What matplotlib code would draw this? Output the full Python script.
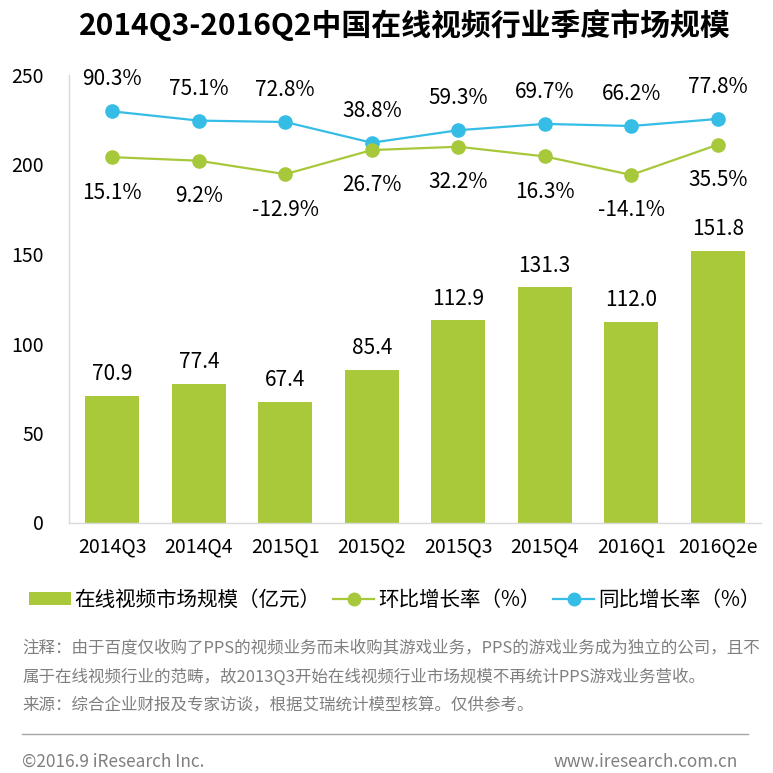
import matplotlib
matplotlib.use("Agg")
import matplotlib.pyplot as plt
from matplotlib.lines import Line2D
from matplotlib.patches import Patch

plt.rcParams['font.family'] = ['Noto Sans CJK SC', 'DejaVu Sans']

categories = ["2014Q3", "2014Q4", "2015Q1", "2015Q2", "2015Q3", "2015Q4", "2016Q1", "2016Q2e"]
market_size = [70.9, 77.4, 67.4, 85.4, 112.9, 131.3, 112.0, 151.8]
qoq_growth = [15.1, 9.2, -12.9, 26.7, 32.2, 16.3, -14.1, 35.5]
yoy_growth = [90.3, 75.1, 72.8, 38.8, 59.3, 69.7, 66.2, 77.8]
y_ticks = [0, 50, 100, 150, 200, 250]

title = "2014Q3-2016Q2中国在线视频行业季度市场规模"
legend_labels = ["在线视频市场规模（亿元）", "环比增长率（%）", "同比增长率（%）"]
notes = ["注释：由于百度仅收购了PPS的视频业务而未收购其游戏业务，PPS的游戏业务成为独立的公司，且不",
         "属于在线视频行业的范畴，故2013Q3开始在线视频行业市场规模不再统计PPS游戏业务营收。",
         "来源：综合企业财报及专家访谈，根据艾瑞统计模型核算。仅供参考。"]
footer_left = "©2016.9 iResearch Inc."
footer_right = "www.iresearch.com.cn"

BAR = "#A9C93A"
GREEN = "#A8C83B"
BLUE = "#35BDE6"
GRAY = "#7F7F7F"

W = 773
fig = plt.figure(figsize=(7.73, 7.73), dpi=100)

def fx(px):
    return px / W

def fy(py):
    return 1 - py / W

ax = fig.add_axes([fx(69), fy(522.5), fx(761 - 69), fy(75) - fy(522.5)])
x = list(range(len(categories)))
bars = ax.bar(x, market_size, width=0.62, color=BAR, zorder=2)
ax.set_xlim(-0.5, len(categories) - 0.5)
ax.set_ylim(0, 250)
ax.set_yticks(y_ticks)
ax.set_xticks(x)
ax.set_xticklabels(categories)
ax.tick_params(axis='both', length=0, labelsize=14, colors='black')
ax.tick_params(axis='y', pad=18)
ax.tick_params(axis='x', pad=10)
for s in ['top', 'right']:
    ax.spines[s].set_visible(False)
for s in ['left', 'bottom']:
    ax.spines[s].set_color('#D9D9D9')
    ax.spines[s].set_linewidth(1.0)

for xi, v in zip(x, market_size):
    ax.annotate(f"{v:.1f}", (xi, v), xytext=(0, 15.5), textcoords='offset points',
                ha='center', va='center', fontsize=15, color='black')

ax2 = ax.twinx()
ax2.set_ylim(-585, 150)
ax2.axis('off')
ax2.plot(x, yoy_growth, color=BLUE, lw=1.6, marker='o', markersize=9.5, zorder=3)
ax2.plot(x, qoq_growth, color=GREEN, lw=1.6, marker='o', markersize=9.5, zorder=3)
for xi, v in zip(x, yoy_growth):
    ax2.annotate(f"{v:.1f}%", (xi, v), xytext=(0, 23), textcoords='offset points',
                 ha='center', va='center', fontsize=15, color='black')
for xi, v in zip(x, qoq_growth):
    ax2.annotate(f"{v:.1f}%", (xi, v), xytext=(0, -25.5), textcoords='offset points',
                 ha='center', va='center', fontsize=15, color='black')

fig.text(fx(405), fy(25), title, ha='center', va='center', fontsize=21.5, fontweight='bold', color='black')

handles = [Patch(facecolor=BAR, edgecolor='none'),
           Line2D([0], [0], color=GREEN, lw=1.6, marker='o', markersize=9),
           Line2D([0], [0], color=BLUE, lw=1.6, marker='o', markersize=9)]
leg = fig.legend(handles, legend_labels, loc='center', bbox_to_anchor=(fx(395), fy(600)),
                 ncol=3, frameon=False, fontsize=14.8, handlelength=2.0, handleheight=0.6,
                 handletextpad=0.2, columnspacing=0.6, borderpad=0)

for i, line in enumerate(notes):
    fig.text(fx(22), fy([648, 677, 706][i]), line, ha='left', va='center', fontsize=11.9, color=GRAY)

fig.add_artist(Line2D([fx(22), fx(748)], [fy(734), fy(734)], color='#A6A6A6', lw=1.0))
fig.text(fx(22), fy(762), footer_left, ha='left', va='center', fontsize=12.4, color=GRAY)
fig.text(fx(738), fy(762), footer_right, ha='right', va='center', fontsize=12.4, color=GRAY)

fig.savefig("out.png", dpi=100, facecolor='white')
